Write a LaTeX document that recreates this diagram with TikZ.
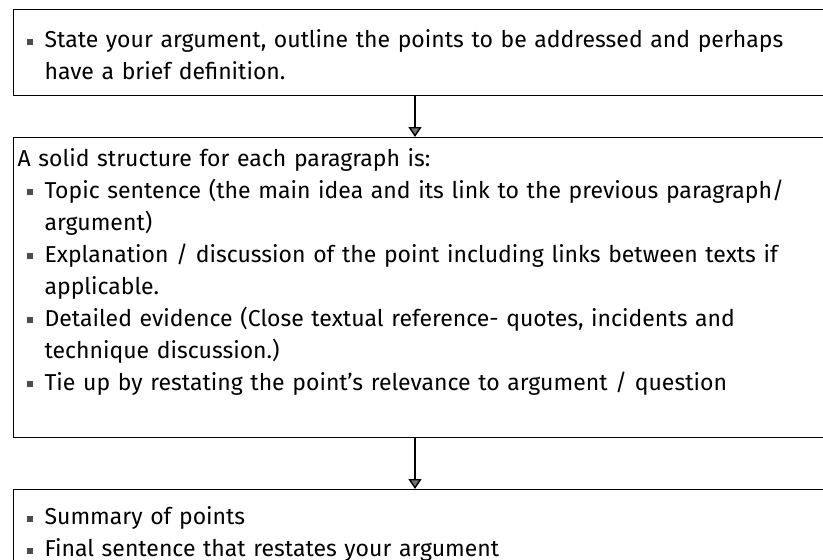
\documentclass[tikz,border=0pt]{standalone}
\usepackage{fontspec}
\setmainfont{Fira Sans}
\usetikzlibrary{arrows.meta}

\tikzstyle{block} = [rectangle, draw=black, line width=1.2pt, anchor=north west, text width=832pt, inner xsep=4pt, inner ysep=6pt, align=left, font=\fontsize{23}{32}\selectfont, execute at begin node={\lineskip=0pt\lineskiplimit=0pt}]
\tikzstyle{arrow} = [line width=1.4pt, -{Triangle[width=13pt,length=10pt,fill=black!55]}]

\newcommand{\bulletmark}{\textcolor{black!70}{\rule[3pt]{6pt}{6pt}}}
\newcommand{\bitem}[1]{\par\noindent\makebox[27pt][l]{\hspace*{9pt}\bulletmark}\parbox[t]{790pt}{\strut #1\strut}}

\begin{document}
\begin{tikzpicture}
\useasboundingbox (0,0) rectangle (823pt,-560pt);
\clip (0,0) rectangle (823pt,-560pt);

\node (intro) [block, minimum height=76pt] at (13pt,-9pt) {%
\bitem{State your argument, outline the points to be addressed and perhaps\newline
have a brief definition.}};
\node (body) [block, minimum height=300pt] at (13pt,-137pt) {%
\noindent\strut A solid structure for each paragraph is:
\bitem{Topic sentence (the main idea and its link to the previous paragraph/\newline
argument)}
\bitem{Explanation / discussion of the point including links between texts if\newline
applicable.}
\bitem{Detailed evidence (Close textual reference- quotes, incidents and\newline
technique discussion.)}
\bitem{Tie up by restating the point’s relevance to argument / question\newline
\strut}};
\node (concl) [block, inner ysep=3pt] at (13pt,-489pt) {%
\bitem{Summary of points}
\bitem{Final sentence that restates your argument}};

\coordinate (axis) at (415pt,0);
\draw [arrow] (intro.south -| axis) -- (body.north -| axis);
\draw [arrow] (body.south -| axis) -- (concl.north -| axis);
\end{tikzpicture}
\end{document}
